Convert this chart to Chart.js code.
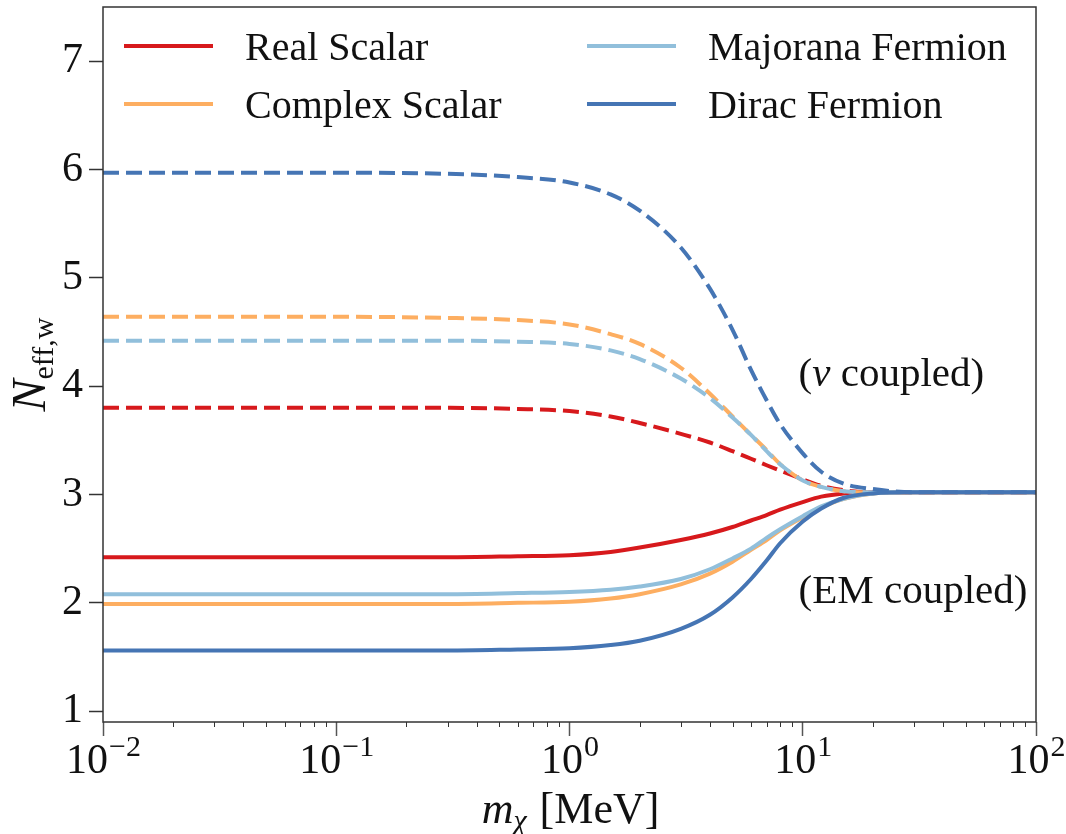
<!DOCTYPE html>
<html>
<head>
<meta charset="utf-8">
<script src="https://cdn.jsdelivr.net/npm/chart.js@4.4.1/dist/chart.umd.min.js"></script>
<style>
  html, body { margin: 0; padding: 0; background: #fff; }
  #wrap { width: 1066px; height: 834px; }
</style>
</head>
<body>
<div id="wrap"><canvas id="neffChart"></canvas></div>
<script>
// dark matter mass m_chi [MeV]
const masses = [0.01, 0.03, 0.1, 0.3, 0.6, 1, 1.5, 2, 3, 4, 5, 6, 7, 8, 10, 12, 15, 20, 30, 100];

// neutrino coupled (dashed)
const diracNu = [5.97, 5.97, 5.97, 5.96, 5.93, 5.88, 5.77, 5.62, 5.28, 4.90, 4.52, 4.15, 3.87, 3.65, 3.38, 3.21, 3.10, 3.05, 3.02, 3.02];
const complexNu = [4.64, 4.64, 4.64, 4.63, 4.61, 4.57, 4.48, 4.39, 4.17, 3.93, 3.72, 3.55, 3.41, 3.28, 3.13, 3.07, 3.03, 3.02, 3.02, 3.02];
const majoranaNu = [4.42, 4.42, 4.42, 4.42, 4.41, 4.39, 4.33, 4.25, 4.07, 3.89, 3.71, 3.55, 3.40, 3.28, 3.13, 3.07, 3.03, 3.02, 3.02, 3.02];
const realNu = [3.80, 3.80, 3.80, 3.80, 3.79, 3.77, 3.72, 3.66, 3.56, 3.48, 3.40, 3.33, 3.27, 3.22, 3.14, 3.08, 3.04, 3.02, 3.02, 3.02];

// EM coupled (solid)
const realEM = [2.42, 2.42, 2.42, 2.42, 2.43, 2.44, 2.47, 2.51, 2.58, 2.64, 2.70, 2.76, 2.81, 2.86, 2.93, 2.98, 3.01, 3.02, 3.02, 3.02];
const complexEM = [1.99, 1.99, 1.99, 1.99, 2.00, 2.01, 2.04, 2.08, 2.17, 2.27, 2.38, 2.49, 2.58, 2.67, 2.79, 2.88, 2.96, 3.01, 3.02, 3.02];
const majoranaEM = [2.08, 2.08, 2.08, 2.08, 2.09, 2.10, 2.12, 2.15, 2.22, 2.31, 2.41, 2.50, 2.60, 2.68, 2.80, 2.89, 2.96, 3.01, 3.02, 3.02];
const diracEM = [1.56, 1.56, 1.56, 1.56, 1.57, 1.58, 1.61, 1.65, 1.76, 1.89, 2.05, 2.22, 2.39, 2.55, 2.75, 2.87, 2.97, 3.01, 3.02, 3.02];

const species = ["Real Scalar", "Complex Scalar", "Majorana Fermion", "Dirac Fermion"];
const colors = ["#d7191c", "#fdae61", "#91bfdb", "#4575b4"];

const xTicks = [0.01, 0.1, 1, 10, 100];
const yTicks = [1, 2, 3, 4, 5, 6, 7];

const notes = [
  { x: 9.6, y: 4.0, parts: [["(", false], ["\u03bd", true], [" coupled)", false]] },
  { x: 9.6, y: 2.0, parts: [["(EM coupled)", false]] },
];

const SERIF = '"Liberation Serif", "Times New Roman", serif';

function points(values) {
  return masses.map((m, i) => ({ x: m, y: values[i] }));
}

function line(label, values, color, dashed) {
  return {
    label,
    data: points(values),
    borderColor: color,
    backgroundColor: color,
    borderWidth: 4,
    borderDash: dashed ? [16, 7] : [],
    pointRadius: 0,
    cubicInterpolationMode: "monotone",
    fill: false,
  };
}

// first dataset is drawn on top
const datasets = [
  line("Dirac Fermion", diracEM, colors[3], false),
  line("Dirac Fermion (\u03bd)", diracNu, colors[3], true),
  line("Majorana Fermion", majoranaEM, colors[2], false),
  line("Majorana Fermion (\u03bd)", majoranaNu, colors[2], true),
  line("Complex Scalar", complexEM, colors[1], false),
  line("Complex Scalar (\u03bd)", complexNu, colors[1], true),
  line("Real Scalar", realEM, colors[0], false),
  line("Real Scalar (\u03bd)", realNu, colors[0], true),
];

function drawParts(ctx, parts, x0, y0, size) {
  let cx = x0;
  parts.forEach(([text, italic]) => {
    ctx.font = `${italic ? "italic " : ""}${size}px ${SERIF}`;
    ctx.fillText(text, cx, y0);
    cx += ctx.measureText(text).width;
  });
}

const decorPlugin = {
  id: "decor",
  afterDraw(chart) {
    const { ctx, chartArea: a, scales } = chart;
    const xs = scales.x;
    const ys = scales.y;
    ctx.save();

    // frame
    ctx.strokeStyle = "#333";
    ctx.lineWidth = 1.5;
    ctx.strokeRect(a.left, a.top, a.right - a.left, a.bottom - a.top);

    // minor x ticks
    ctx.lineWidth = 1;
    for (let e = -2; e < 2; e += 1) {
      for (let k = 2; k <= 9; k += 1) {
        const px = Math.round(xs.getPixelForValue(k * Math.pow(10, e))) + 0.5;
        ctx.beginPath();
        ctx.moveTo(px, a.bottom);
        ctx.lineTo(px, a.bottom + 5);
        ctx.stroke();
      }
    }

    // x tick labels 10^n
    ctx.fillStyle = "#111";
    ctx.textBaseline = "alphabetic";
    ctx.textAlign = "left";
    xTicks.forEach((v) => {
      const px = xs.getPixelForValue(v);
      const exp = String(Math.round(Math.log10(v))).replace("-", "\u2212");
      ctx.font = `42px ${SERIF}`;
      const wBase = ctx.measureText("10").width;
      ctx.font = `30px ${SERIF}`;
      const wExp = ctx.measureText(exp).width;
      const left = px - (wBase + wExp) / 2;
      ctx.font = `42px ${SERIF}`;
      ctx.fillText("10", left, a.bottom + 51);
      ctx.font = `30px ${SERIF}`;
      ctx.fillText(exp, left + wBase + 1, a.bottom + 34);
    });

    // x axis title
    ctx.font = `italic 44px ${SERIF}`;
    const wm = ctx.measureText("m").width;
    ctx.font = `italic 30px ${SERIF}`;
    const wchi = ctx.measureText("\u03c7").width;
    ctx.font = `44px ${SERIF}`;
    const wrest = ctx.measureText(" [MeV]").width;
    const xc = (a.left + a.right) / 2;
    const tx = xc - (wm + wchi + wrest) / 2;
    ctx.font = `italic 44px ${SERIF}`;
    ctx.fillText("m", tx, 823);
    ctx.font = `italic 30px ${SERIF}`;
    ctx.fillText("\u03c7", tx + wm, 830);
    ctx.font = `44px ${SERIF}`;
    ctx.fillText(" [MeV]", tx + wm + wchi + 2, 823);

    // y axis title
    ctx.save();
    ctx.translate(45, (a.top + a.bottom) / 2);
    ctx.rotate(-Math.PI / 2);
    ctx.font = `italic 48px ${SERIF}`;
    const wN = ctx.measureText("N").width;
    ctx.font = `30px ${SERIF}`;
    const wSub = ctx.measureText("eff,w").width;
    const ty = -(wN + wSub) / 2;
    ctx.font = `italic 48px ${SERIF}`;
    ctx.fillText("N", ty, 0);
    ctx.font = `30px ${SERIF}`;
    ctx.fillText("eff,w", ty + wN, 8);
    ctx.restore();

    // legend, two columns
    const cols = [124, 587];
    const rows = [46, 104];
    species.forEach((name, i) => {
      const lx = cols[Math.floor(i / 2)];
      const ly = rows[i % 2];
      ctx.strokeStyle = colors[i];
      ctx.lineWidth = 4;
      ctx.setLineDash([]);
      ctx.beginPath();
      ctx.moveTo(lx, ly);
      ctx.lineTo(lx + 89, ly);
      ctx.stroke();
      ctx.fillStyle = "#111";
      ctx.font = `40px ${SERIF}`;
      ctx.fillText(name, lx + 121, ly + 14);
    });

    // annotations
    notes.forEach((n) => {
      drawParts(ctx, n.parts, xs.getPixelForValue(n.x), ys.getPixelForValue(n.y), 41);
    });

    ctx.restore();
  },
};

new Chart(document.getElementById("neffChart"), {
  type: "line",
  data: { datasets },
  options: {
    responsive: true,
    maintainAspectRatio: false,
    animation: false,
    layout: { padding: { top: 7, right: 30, left: 0, bottom: 0 } },
    plugins: {
      legend: { display: false },
      tooltip: { enabled: false },
    },
    scales: {
      x: {
        type: "logarithmic",
        min: 0.01,
        max: 100,
        afterBuildTicks: (scale) => {
          scale.ticks = xTicks.map((v) => ({ value: v }));
        },
        afterFit: (scale) => {
          scale.height = 112;
          scale.paddingLeft = 0;
          scale.paddingRight = 0;
        },
        ticks: { display: false },
        grid: {
          drawOnChartArea: false,
          drawTicks: true,
          tickLength: 14,
          tickColor: "#555",
          tickWidth: 1.5,
        },
        border: { display: false },
      },
      y: {
        min: 0.9,
        max: 7.5,
        afterBuildTicks: (scale) => {
          scale.ticks = yTicks.map((v) => ({ value: v }));
        },
        afterFit: (scale) => {
          scale.width = 103;
          scale.paddingTop = 0;
          scale.paddingBottom = 0;
        },
        ticks: {
          color: "#111",
          padding: 6,
          font: { family: SERIF, size: 42 },
        },
        grid: {
          drawOnChartArea: false,
          drawTicks: true,
          tickLength: 14,
          tickColor: "#333",
          tickWidth: 1.5,
        },
        border: { display: false },
      },
    },
  },
  plugins: [decorPlugin],
});
</script>
</body>
</html>
